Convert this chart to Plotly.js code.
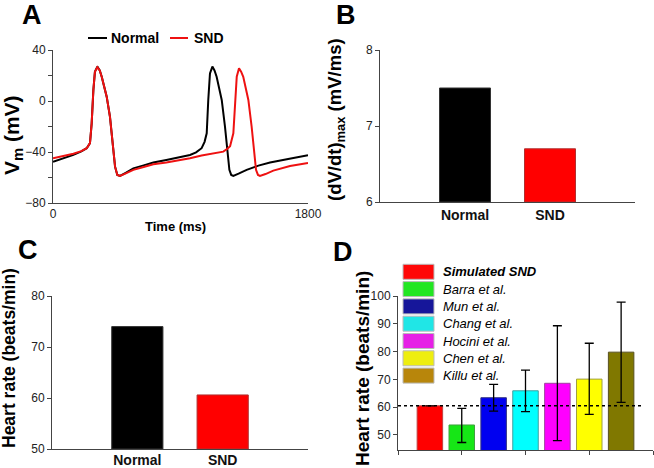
<!DOCTYPE html>
<html>
<head>
<meta charset="utf-8">
<script src="https://cdn.plot.ly/plotly-3.0.1.min.js"></script>
<style>html,body{margin:0;padding:0;background:#fff;}#chart{width:654px;height:468px;}</style>
</head>
<body>
<div id="chart"></div>
<script>
// ---- Panel A: action potentials ----
var timeNormal = [0, 72, 144, 200, 238, 261, 273, 285, 296, 313, 330, 344, 362, 379, 402, 421, 438, 454, 473, 510, 567, 640, 708, 800, 885, 967, 1010, 1049, 1070, 1085, 1096, 1108, 1125, 1140, 1155, 1191, 1214, 1231, 1245, 1258, 1273, 1310, 1367, 1450, 1532, 1660, 1800];
var vNormal = [-47.6, -45, -42.3, -39.5, -37, -33, -17.5, 8.6, 23, 27, 24, 19, 12, 3.4, -12.3, -30.6, -51.5, -58, -58.8, -56.5, -52.8, -50.5, -48.3, -46.2, -44.2, -42.3, -40.3, -37, -32, -25.3, 0.8, 21.7, 27, 24, 19, 0.8, -20.1, -38.4, -54, -58, -58.8, -57, -54, -50.7, -48.3, -45.5, -42.5];
var timeSND = [0, 72, 144, 200, 238, 261, 273, 285, 296, 313, 330, 344, 362, 379, 402, 421, 438, 454, 473, 510, 567, 640, 708, 800, 885, 967, 1049, 1130, 1202, 1231, 1250, 1273, 1285, 1297, 1313, 1328, 1343, 1379, 1402, 1419, 1433, 1447, 1461, 1500, 1555, 1673, 1800];
var vSND = [-44.9, -43.2, -41.3, -39.3, -37, -33, -17.5, 8.6, 23, 26.5, 24, 19, 12, 3.4, -12.3, -30.6, -51.5, -58, -58.8, -57, -54, -51.8, -49.6, -48.2, -46.8, -44.9, -42.8, -41.3, -39.7, -37.5, -35.5, -25.3, 0.8, 19, 25.6, 23, 19, 0.8, -20, -38.4, -54, -58, -58.8, -57.3, -54.6, -51, -48.6];

// ---- Panel B / C ----
var groups = ["Normal", "SND"];
var dvdtMax = [7.5, 6.7];
var heartRate = [74, 60.6];

// ---- Panel D ----
var studies = ["Simulated SND", "Barra et al.", "Mun et al.", "Chang et al.", "Hocini et al.", "Chen et al.", "Killu et al."];
var studyHR = [60.5, 53.6, 63.4, 65.9, 68.6, 70.1, 79.8];
var errPlus = [null, 6.0, 4.8, 7.4, 20.7, 12.9, 18.0];
var errMinus = [null, 6.3, 4.8, 7.5, 20.6, 12.7, 18.1];
var simulatedRef = 60.5;

var barColors = ["#ff0000", "#16e616", "#0000f0", "#00ffff", "#ff00ff", "#ffff00", "#807800"];
var barLines = ["#c04040", "#40a040", "#303080", "#40a0a0", "#a040a0", "#a0a040", "#585020"];
var legendColors = ["#ff0808", "#22e622", "#16169a", "#20e6e6", "#e620e6", "#eeee10", "#b8860b"];

var W = 654, H = 468;
function px(x) { return x / W; }
function py(y) { return 1 - y / H; }

var FONT = "Arial, 'Liberation Sans', sans-serif";

var traces = [
  {x: timeNormal, y: vNormal, type: "scatter", mode: "lines", line: {color: "#000", width: 2}, xaxis: "x", yaxis: "y", showlegend: false, hoverinfo: "skip"},
  {x: timeSND, y: vSND, type: "scatter", mode: "lines", line: {color: "#ee1111", width: 2}, xaxis: "x", yaxis: "y", showlegend: false, hoverinfo: "skip"},
  {x: [0, 1], y: dvdtMax.map(function(v){return v - 6;}), base: 6, type: "bar", width: 0.6, marker: {color: ["#000000", "#ff0000"], line: {color: ["#333", "#b03030"], width: 1}}, xaxis: "x2", yaxis: "y2", showlegend: false},
  {x: [0, 1], y: heartRate.map(function(v){return v - 50;}), base: 50, type: "bar", width: 0.6, marker: {color: ["#000000", "#ff0000"], line: {color: ["#333", "#b03030"], width: 1}}, xaxis: "x3", yaxis: "y3", showlegend: false},
  {x: studies.map(function(_, i){return i;}), y: studyHR, type: "bar", width: 0.8,
   marker: {color: barColors, line: {color: barLines, width: 1}},
   error_y: {type: "data", array: errPlus, arrayminus: errMinus, symmetric: false, color: "#000", thickness: 1.3, width: 4.5},
   xaxis: "x4", yaxis: "y4", showlegend: false},
  {x: [-1, 6.7], y: [simulatedRef, simulatedRef], type: "scatter", mode: "lines", line: {color: "#000", width: 1.5, dash: "3px,3px"}, xaxis: "x4", yaxis: "y4", showlegend: false, hoverinfo: "skip"}
];

var axCommon = {showline: true, linecolor: "#444", linewidth: 1, showgrid: false, zeroline: false, ticks: "outside", ticklen: 4, tickcolor: "#444", tickfont: {family: FONT, size: 12, color: "#222"}, fixedrange: true};
function ax(extra) { var o = JSON.parse(JSON.stringify(axCommon)); for (var k in extra) o[k] = extra[k]; return o; }

var layout = {
  width: W, height: H,
  margin: {l: 0, r: 0, t: 0, b: 0},
  paper_bgcolor: "#fff", plot_bgcolor: "rgba(0,0,0,0)",
  bargap: 0,
  xaxis: ax({domain: [px(53), px(308)], range: [0, 1800], anchor: "y", tickvals: [0, 1800], ticks: "inside", ticklen: 4}),
  yaxis: ax({domain: [py(203), py(50)], range: [-80, 40], anchor: "x", tickmode: "linear", tick0: -80, dtick: 40,
             minor: {tickmode: "linear", tick0: -80, dtick: 20, ticks: "outside", ticklen: 4, tickcolor: "#444"}}),
  xaxis2: ax({domain: [px(380), px(635)], range: [-1, 2], anchor: "y2", tickvals: [0, 1], ticktext: ["<b>Normal</b>", "<b>SND</b>"], ticks: "", tickfont: {family: FONT, size: 14, color: "#111"}}),
  yaxis2: ax({domain: [py(202), py(50)], range: [6, 8], anchor: "x2", tickvals: [6, 7, 8]}),
  xaxis3: ax({domain: [px(52), px(308)], range: [-1, 2], anchor: "y3", tickvals: [0, 1], ticktext: ["<b>Normal</b>", "<b>SND</b>"], ticks: "", ticklabelstandoff: -2, tickfont: {family: FONT, size: 14, color: "#111"}}),
  yaxis3: ax({domain: [py(449), py(296)], range: [50, 80], anchor: "x3", tickvals: [50, 60, 70, 80]}),
  xaxis4: ax({domain: [px(398), px(653)], range: [-1, 7], anchor: "y4", tickvals: [-1, 1, 3, 5, 7], showticklabels: false}),
  yaxis4: ax({domain: [py(450), py(296)], range: [44.6, 100], anchor: "x4", tickvals: [50, 60, 70, 80, 90, 100]}),
  shapes: [],
  annotations: []
};

function ann(text, x, y, size, opts) {
  var a = {text: text, x: px(x), y: py(y), xref: "paper", yref: "paper", showarrow: false, font: {family: FONT, size: size, color: "#000"}, xanchor: "center", yanchor: "middle"};
  for (var k in (opts || {})) a[k] = opts[k];
  layout.annotations.push(a);
}

// panel letters
ann("<b>A</b>", 32, 15, 27);
ann("<b>B</b>", 346, 15, 27);
ann("<b>C</b>", 28, 250, 27);
ann("<b>D</b>", 343, 252, 27);

// axis titles
ann("<b>V<sub>m</sub> (mV)</b>", 13, 135, 21, {textangle: -90});
ann("<b>Time (ms)</b>", 176, 226, 13);
ann("<b>(dV/dt)<sub>max</sub> (mV/ms)</b>", 336, 120, 18.5, {textangle: -90});
ann("<b>Heart rate (beats/min)</b>", 9, 358, 17.5, {textangle: -90});
ann("<b>Heart rate (beats/min)</b>", 362, 369, 19, {textangle: -90});

// panel A legend
layout.shapes.push({type: "line", xref: "paper", yref: "paper", x0: px(88), x1: px(107), y0: py(38), y1: py(38), line: {color: "#000", width: 2}});
ann("<b>Normal</b>", 109, 38, 14, {xanchor: "left"});
layout.shapes.push({type: "line", xref: "paper", yref: "paper", x0: px(170), x1: px(188), y0: py(38), y1: py(38), line: {color: "#ee1111", width: 2}});
ann("<b>SND</b>", 192, 38, 14, {xanchor: "left"});

// panel D legend
var rowTop = [264.3, 281.6, 298.9, 316.2, 333.5, 350.8, 368.1];
for (var i = 0; i < studies.length; i++) {
  layout.shapes.push({type: "rect", xref: "paper", yref: "paper", x0: px(403), x1: px(434), y0: py(rowTop[i]), y1: py(rowTop[i] + 15), fillcolor: legendColors[i], line: {color: "#bbb", width: 1}});
  var t = i === 0 ? "<b><i>" + studies[i] + "</i></b>" : "<i>" + studies[i] + "</i>";
  ann(t, 441, rowTop[i] + 7.5, 13, {xanchor: "left"});
}

Plotly.newPlot("chart", traces, layout, {staticPlot: true, displayModeBar: false});
</script>
</body>
</html>
